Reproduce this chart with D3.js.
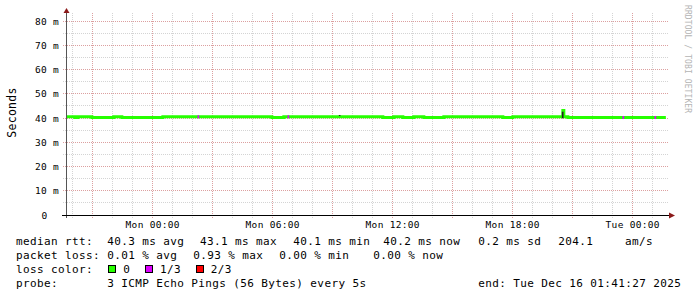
<!DOCTYPE html>
<html>
<head>
<meta charset="utf-8">
<script src="https://cdn.jsdelivr.net/npm/d3@7"></script>
<style>
  body { margin: 0; background: #fff; }
  svg { display: block; }
  text { font-family: "DejaVu Sans Mono", monospace; fill: #000; }
</style>
</head>
<body>
<svg width="697" height="297"></svg>
<script>
//Fenêtre de temps du graphe (30 heures jusqu'à la fin)
var startTime = "2025-12-14T19:41:27Z";
var endTime = "2025-12-16T01:41:27Z";

//Rtt médian (ms), en escalier : instant de changement -> valeur
var medianTimes = [
    "2025-12-14T19:42Z", "2025-12-14T20:08Z", "2025-12-14T20:17Z", "2025-12-14T20:59Z",
    "2025-12-14T22:05Z", "2025-12-14T22:29Z", "2025-12-15T00:32Z", "2025-12-15T05:59Z",
    "2025-12-15T06:35Z", "2025-12-15T11:32Z", "2025-12-15T12:05Z", "2025-12-15T12:32Z",
    "2025-12-15T13:05Z", "2025-12-15T13:35Z", "2025-12-15T14:35Z", "2025-12-15T17:32Z",
    "2025-12-15T18:02Z", "2025-12-15T20:32Z", "2025-12-15T20:35Z", "2025-12-15T20:47Z",
    "2025-12-16T01:41Z"
];
var medianValues = [
    40.5, 40.2, 40.5, 40.2,
    40.5, 40.2, 40.5, 40.2,
    40.5, 40.2, 40.5, 40.2,
    40.5, 40.2, 40.5, 40.2,
    40.5, 43.1, 40.5, 40.2,
    40.2
];

//Echantillons avec perte de paquets (1 ping sur 3)
var lossTimes = ["2025-12-15T02:16Z", "2025-12-15T06:46Z", "2025-12-15T23:31Z", "2025-12-16T01:07Z"];
var lossLevels = [1, 1, 1, 1];

//Fumée (min / max des pings) visible
var smokeTimes = ["2025-12-15T09:20Z", "2025-12-15T20:29Z"];
var smokeLow = [40.8, 39.9];
var smokeHigh = [41.2, 42.6];

//Graduations de l'axe des ordonnées (ms)
var yTicks = [0, 10, 20, 30, 40, 50, 60, 70, 80];

//Couleurs de perte : libellé et couleur
var lossLabels = ["0", "1/3", "2/3"];
var lossColors = ["#26ff00", "#dd00ff", "#ff0000"];

//Légende textuelle
var legendRtt = ["median rtt:", "40.3 ms avg", "43.1 ms max", "40.1 ms min", "40.2 ms now", "0.2 ms sd", "204.1", "am/s"];
var legendLoss = ["packet loss:", "0.01 % avg", "0.93 % max", "0.00 % min", "0.00 % now"];
var legendProbe = ["probe:", "3 ICMP Echo Pings (56 Bytes) every 5s", "end: Tue Dec 16 01:41:27 2025"];

(function () {
    var svg = d3.select("svg");
    var parse = d3.isoParse;

    //Zone de tracé
    var left = 66, right = 666, top = 13, bottom = 215;

    var x = d3.scaleUtc()
            .domain([parse(startTime), parse(endTime)])
            .range([left, right]);
    var y = d3.scaleLinear()
            .domain([0, 83.3])
            .range([bottom, top]);

    var px = v => Math.floor(v) + 0.5;

    //Grille
    var grille = svg.append("g").attr("shape-rendering", "crispEdges");
    var heures = d3.utcHour.every(1).range(parse(startTime), parse(endTime));
    heures.forEach(function (h) {
        var major = h.getUTCHours() % 3 === 0;
        grille.append("line")
                .attr("x1", px(x(h))).attr("x2", px(x(h)))
                .attr("y1", bottom + 3).attr("y2", top)
                .attr("stroke", major ? "#dca0a0" : "#d4d4d4")
                .attr("stroke-dasharray", "1,1");
    });
    d3.range(5, 85, 5).forEach(function (v) {
        var major = v % 10 === 0;
        grille.append("line")
                .attr("x1", left - 3).attr("x2", right + 3)
                .attr("y1", px(y(v))).attr("y2", px(y(v)))
                .attr("stroke", major ? "#dca0a0" : "#d4d4d4")
                .attr("stroke-dasharray", "1,1");
    });

    //Rtt médian
    var points = medianTimes.map((t, i) => ({t: parse(t), v: medianValues[i]}));
    svg.append("path")
            .datum(points)
            .attr("fill", "none")
            .attr("stroke", lossColors[0])
            .attr("stroke-width", 3)
            .attr("d", d3.line()
                    .curve(d3.curveStepAfter)
                    .x(d => x(d.t))
                    .y(d => y(d.v)));

    //Fumée
    var minute = 60 * 1000;
    svg.append("g").selectAll("rect")
            .data(smokeTimes)
            .join("rect")
            .attr("x", (d) => x(parse(d)))
            .attr("width", (d) => x(new Date(+parse(d) + 5 * minute)) - x(parse(d)))
            .attr("y", (d, i) => y(smokeHigh[i]))
            .attr("height", (d, i) => y(smokeLow[i]) - y(smokeHigh[i]))
            .attr("fill", "#222");

    //Echantillons avec perte
    var bis = d3.bisector(d => d.t).right;
    svg.append("g").selectAll("line")
            .data(lossTimes)
            .join("line")
            .each(function (d, i) {
                var t = parse(d);
                var v = points[Math.max(0, bis(points, t) - 1)].v;
                d3.select(this)
                        .attr("x1", x(t)).attr("x2", x(new Date(+t + 5 * minute)))
                        .attr("y1", y(v)).attr("y2", y(v))
                        .attr("stroke", lossColors[lossLevels[i]])
                        .attr("stroke-width", 3);
            });

    //Axe des abscisses
    var axeX = svg.append("g")
            .attr("transform", "translate(0," + bottom + ")")
            .call(d3.axisBottom(x)
                    .tickValues(d3.utcHour.every(6).range(parse(startTime), parse(endTime)))
                    .tickFormat(d3.utcFormat("%a %H:%M"))
                    .tickSize(0)
                    .tickPadding(6));
    axeX.select(".domain").remove();
    axeX.selectAll("text")
            .attr("font-family", "DejaVu Sans Mono")
            .attr("font-size", 9.5)
            .attr("letter-spacing", 0.3);

    //Axe des ordonnées
    var axeY = svg.append("g")
            .attr("transform", "translate(" + left + ",0)")
            .call(d3.axisLeft(y)
                    .tickValues(yTicks)
                    .tickFormat(d => d === 0 ? "0" : d + " m")
                    .tickSize(0)
                    .tickPadding(7));
    axeY.select(".domain").remove();
    axeY.selectAll("text")
            .attr("font-family", "DejaVu Sans Mono")
            .attr("font-size", 9.5)
            .attr("letter-spacing", 0.3)
            .attr("dx", d => d === 0 ? -11.5 : 0);

    //Traits d'axes et flèches
    var axes = svg.append("g").attr("shape-rendering", "crispEdges");
    axes.append("line")
            .attr("x1", left + 0.5).attr("x2", left + 0.5)
            .attr("y1", bottom + 3).attr("y2", top - 2)
            .attr("stroke", "#555");
    axes.append("line")
            .attr("x1", left - 4).attr("x2", right + 4)
            .attr("y1", bottom + 0.5).attr("y2", bottom + 0.5)
            .attr("stroke", "#000");
    svg.append("path")
            .attr("d", "M" + (right + 9) + "," + (bottom + 0.5) + "L" + (right + 3) + "," + (bottom - 2.5) + "L" + (right + 3) + "," + (bottom + 3.5) + "Z")
            .attr("fill", "#8b1a1a");
    svg.append("path")
            .attr("d", "M" + (left + 0.5) + "," + (top - 5) + "L" + (left - 2.5) + "," + top + "L" + (left + 3.5) + "," + top + "Z")
            .attr("fill", "#8b1a1a");

    //Titre vertical
    svg.append("text")
            .attr("transform", "translate(15.5,112.5) rotate(-90)")
            .attr("text-anchor", "middle")
            .attr("font-size", 11.5)
            .attr("letter-spacing", 0.3)
            .text("Seconds");

    //Filigrane
    svg.append("text")
            .attr("transform", "translate(684.5,5) rotate(90)")
            .attr("font-size", 8)
            .attr("letter-spacing", 0.1)
            .style("fill", "#b4b4b4")
            .text("RRDTOOL / TOBI OETIKER");

    //Légende
    var legende = svg.append("g")
            .attr("font-size", 11)
            .attr("letter-spacing", 0.38);
    function ligne(textes, xs, base) {
        legende.selectAll(null)
                .data(textes)
                .enter()
                .append("text")
                .attr("x", (d, i) => xs[i])
                .attr("y", base)
                .text(d => d);
    }
    ligne(legendRtt, [16, 107.3, 200, 293.3, 383.3, 478.3, 558.3, 625], 245);
    ligne(legendLoss, [16, 107.3, 193.3, 279.3, 373.3], 259);
    ligne(["loss color:"], [16], 273);
    var boxX = [108.5, 145.5, 196.5];
    legende.selectAll(null)
            .data(lossLabels)
            .enter()
            .append("rect")
            .attr("x", (d, i) => boxX[i])
            .attr("y", 265.5)
            .attr("width", 7)
            .attr("height", 7)
            .attr("fill", (d, i) => lossColors[i])
            .attr("stroke", "#000");
    ligne(lossLabels, [123.3, 160, 210.7], 273);
    ligne(legendProbe, [16, 107.3, 478.3], 287);
})();
</script>
</body>
</html>
